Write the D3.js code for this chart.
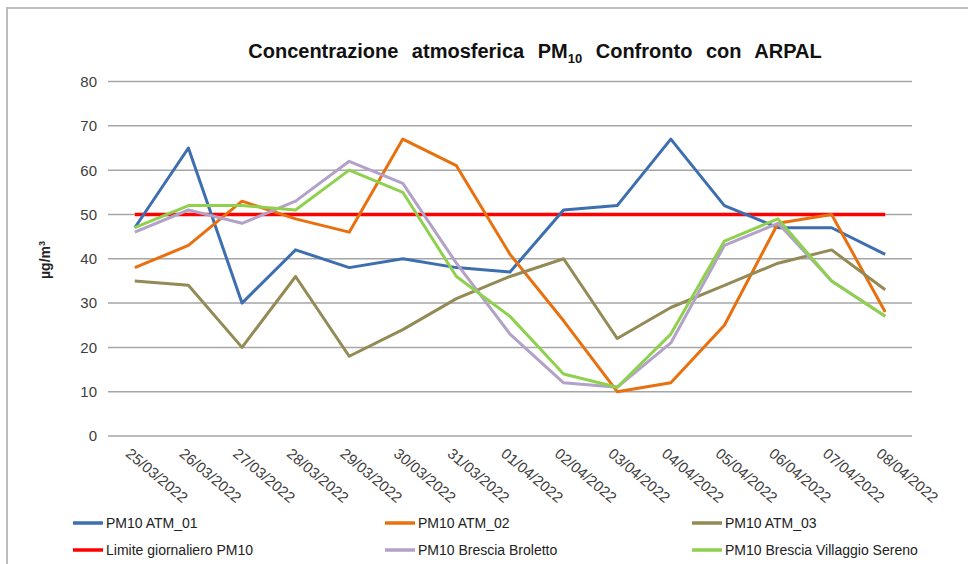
<!DOCTYPE html>
<html><head><meta charset="utf-8">
<script src="https://cdn.jsdelivr.net/npm/d3@7"></script>
<style>body{margin:0;background:#fff;}svg{display:block;font-family:"Liberation Sans",Arial,sans-serif;}</style>
</head><body>
<svg id="c" width="968" height="564"></svg>
<script>
const dates = ["25/03/2022","26/03/2022","27/03/2022","28/03/2022","29/03/2022","30/03/2022","31/03/2022","01/04/2022","02/04/2022","03/04/2022","04/04/2022","05/04/2022","06/04/2022","07/04/2022","08/04/2022"];
const atm01 = [47,65,30,42,38,40,38,37,51,52,67,52,47,47,41];
const atm02 = [38,43,53,49,46,67,61,41,26,10,12,25,48,50,28];
const atm03 = [35,34,20,36,18,24,31,36,40,22,29,34,39,42,33];
const limite = [50,50,50,50,50,50,50,50,50,50,50,50,50,50,50];
const broletto = [46,51,48,53,62,57,39,23,12,11,21,43,48,35,27];
const villaggio = [47,52,52,51,60,55,36,27,14,11,23,44,49,35,27];
const yTicks = [0,10,20,30,40,50,60,70,80];

const series = [
  {name:"PM10 ATM_01", values:atm01, color:"#3d6eaf", w:3},
  {name:"PM10 ATM_02", values:atm02, color:"#e8700f", w:3},
  {name:"PM10 ATM_03", values:atm03, color:"#938a55", w:3},
  {name:"Limite giornaliero PM10", values:limite, color:"#ff0000", w:3.5},
  {name:"PM10 Brescia Broletto", values:broletto, color:"#b3a2c8", w:3},
  {name:"PM10 Brescia Villaggio Sereno", values:villaggio, color:"#8fd14f", w:3}
];
const drawOrder = [3,0,1,2,4,5];

const svg = d3.select("#c");
// frame
svg.append("rect").attr("x",7).attr("y",8).attr("width",980).attr("height",600)
  .attr("fill","none").attr("stroke","#bdbdbd").attr("stroke-width",2);

const x0 = 108, x1 = 912;
const x = d3.scalePoint().domain(dates).range([x0,x1]).padding(0.5);
const y = d3.scaleLinear().domain([0,80]).range([436,81.5]);

// grid
svg.append("g").selectAll("line").data(yTicks).join("line")
  .attr("x1",x0).attr("x2",x1).attr("y1",d=>y(d)).attr("y2",d=>y(d))
  .attr("stroke","#a6a6a6").attr("stroke-width",1.5);

// y labels
svg.append("g").selectAll("text").data(yTicks).join("text")
  .attr("x",97).attr("y",d=>y(d)).attr("dy","0.36em").attr("text-anchor","end")
  .attr("font-size",15).attr("fill","#404040").text(d=>d);

// x labels
svg.append("g").selectAll("text").data(dates).join("text")
  .attr("transform",d=>`translate(${x(d)-3},447) rotate(40)`)
  .attr("dy","0.72em").attr("font-size",15).attr("fill","#404040").text(d=>d);

// y title
svg.append("text").attr("transform","translate(50,260) rotate(-90)")
  .attr("text-anchor","middle").attr("font-size",14).attr("font-weight","bold")
  .attr("fill","#222").html("µg/m<tspan dy='-5' font-size='9'>3</tspan>");

// title
const t = svg.append("text").attr("x",535).attr("y",58).attr("text-anchor","middle")
  .attr("font-size",20).attr("font-weight","bold").attr("fill","#111").attr("word-spacing",8);
t.append("tspan").text("Concentrazione atmosferica PM");
t.append("tspan").attr("dy",5).attr("font-size",13).text("10");
t.append("tspan").attr("dy",-5).text(" Confronto con ARPAL");

// lines
const line = d3.line().x((d,i)=>x(dates[i])).y(d=>y(d));
svg.append("g").selectAll("path").data(drawOrder.map(i=>series[i])).join("path")
  .attr("d",s=>line(s.values)).attr("fill","none").attr("stroke",s=>s.color)
  .attr("stroke-width",s=>s.w).attr("stroke-linejoin","round");

// legend
const legX = [73,385,692], legY = [523,550];
const lg = svg.append("g").selectAll("g").data(series).join("g")
  .attr("transform",(s,i)=>`translate(${legX[i%3]},${legY[Math.floor(i/3)]})`);
lg.append("line").attr("x1",0).attr("x2",30).attr("stroke",s=>s.color).attr("stroke-width",3.5);
lg.append("text").attr("x",33).attr("dy","0.36em").attr("font-size",14).attr("fill","#222").text(s=>s.name);
</script>
</body></html>
